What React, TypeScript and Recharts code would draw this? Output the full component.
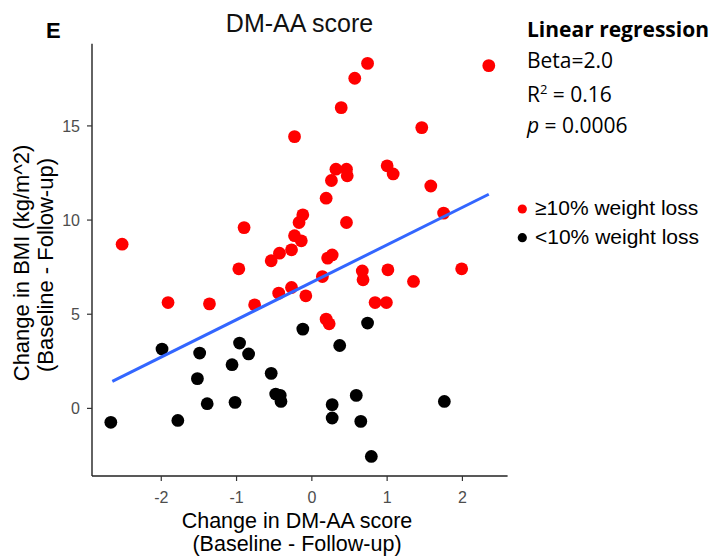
import React from "react";
import { ScatterChart, Scatter, XAxis, YAxis, Customized } from "recharts";

// ≥10% weight loss (red)
const redX = [-2.52, -1.91, -1.36, -0.97, -0.9, -0.76, -0.54, -0.43, -0.44, -0.27, -0.27, -0.23, -0.23, -0.14, -0.17, -0.12, -0.08, 0.14, 0.19, 0.21, 0.27, 0.19, 0.23, 0.26, 0.32, 0.46, 0.47, 0.46, 0.39, 0.57, 0.74, 0.67, 0.68, 0.84, 0.99, 1.0, 1.08, 1.01, 1.35, 1.46, 1.58, 1.75, 1.99, 2.35];
const redY = [8.72, 5.62, 5.55, 7.41, 9.6, 5.5, 7.84, 8.24, 6.12, 8.42, 6.42, 14.43, 9.17, 8.9, 9.87, 10.28, 5.98, 7.0, 11.16, 7.98, 8.15, 4.74, 4.49, 12.1, 12.7, 12.7, 12.35, 9.87, 15.97, 17.53, 18.32, 7.3, 6.83, 5.62, 5.62, 12.88, 12.45, 7.36, 6.74, 14.91, 11.81, 10.37, 7.41, 18.2];

// <10% weight loss (black)
const blackX = [-2.67, -1.99, -1.78, -1.52, -1.49, -1.39, -1.06, -1.02, -0.96, -0.84, -0.54, -0.48, -0.42, -0.41, -0.12, 0.27, 0.27, 0.37, 0.59, 0.65, 0.74, 0.79, 1.76];
const blackY = [-0.74, 3.15, -0.64, 1.58, 2.94, 0.25, 2.32, 0.32, 3.47, 2.89, 1.86, 0.76, 0.69, 0.37, 4.21, 0.2, -0.51, 3.34, 0.69, -0.69, 4.53, -2.55, 0.37];

// fitted regression line end points
const fitX = [-2.65, 2.35];
const fitY = [1.43, 11.37];

const xTicks = [-2, -1, 0, 1, 2];
const yTicks = [0, 5, 10, 15];

const redData = redX.map((x, i) => ({ x, y: redY[i] }));
const blackData = blackX.map((x, i) => ({ x, y: blackY[i] }));
const fitData = fitX.map((x, i) => ({ x, y: fitY[i] }));

const SANS = "'Liberation Sans', Arial, sans-serif";
const CAL = "'Open Sans', Lato, sans-serif";

const dot = (color: string) => (p: any) => (
  <circle cx={p.cx} cy={p.cy} r={6.4} fill={color} />
);

const XTick = (p: any) => (
  <text x={p.x} y={p.y} dy="0.72em" textAnchor="middle" fontFamily={SANS} fontSize={16} fill="#4D4D4D">
    {p.payload.value}
  </text>
);

const YTick = (p: any) => (
  <text x={p.x} y={p.y} dy="0.36em" textAnchor="end" fontFamily={SANS} fontSize={16} fill="#4D4D4D">
    {p.payload.value}
  </text>
);

const Annotations = () => (
  <g>
    <text x={46} y={37.5} fontFamily={SANS} fontWeight="bold" fontSize={22} fill="#000">E</text>
    <text x={299.5} y={31.7} textAnchor="middle" fontFamily={SANS} fontSize={25} fill="#111">DM-AA score</text>

    <text x={527} y={36.7} fontFamily={CAL} fontWeight="bold" fontSize={21} fill="#000">Linear regression</text>
    <text x={527} y={68.3} fontFamily={CAL} fontSize={21} fill="#000">Beta=2.0</text>
    <text x={527} y={101.7} fontFamily={CAL} fontSize={21} fill="#000">
      R<tspan dy={-8} fontSize={13}>2</tspan><tspan dy={8}> = 0.16</tspan>
    </text>
    <text x={527} y={133.3} fontFamily={CAL} fontSize={21} fill="#000">
      <tspan fontStyle="italic">p</tspan> = 0.0006
    </text>

    <circle cx={522.3} cy={209} r={4.6} fill="#FF0000" />
    <text x={535} y={215} fontFamily={SANS} fontSize={21} fill="#000">≥10% weight loss</text>
    <circle cx={522.3} cy={237.7} r={4.6} fill="#000" />
    <text x={535} y={243.5} fontFamily={SANS} fontSize={21} fill="#000">&lt;10% weight loss</text>

    <text x={297} y={528} textAnchor="middle" fontFamily={SANS} fontSize={21.5} fill="#000">Change in DM-AA score</text>
    <text x={297} y={551} textAnchor="middle" fontFamily={SANS} fontSize={21.5} fill="#000">(Baseline - Follow-up)</text>

    <text x={29.3} y={263} transform="rotate(-90 29.3 263)" textAnchor="middle" fontFamily={SANS} fontSize={22} fill="#000">Change in BMI (kg/m^2)</text>
    <text x={52.7} y={265} transform="rotate(-90 52.7 265)" textAnchor="middle" fontFamily={SANS} fontSize={22} fill="#000">(Baseline - Follow-up)</text>
  </g>
);

export default function App() {
  return (
    <div style={{ position: "absolute", left: 0, top: 0, width: 716, height: 557, background: "#fff" }}>
      <ScatterChart
        width={716}
        height={557}
        margin={{ top: 43.8, right: 208.4, bottom: 51, left: 42 }}
      >
        <XAxis
          type="number"
          dataKey="x"
          domain={[-2.92, 2.6]}
          ticks={xTicks}
          allowDataOverflow
          height={30}
          tickSize={5}
          tickMargin={10}
          axisLine={{ stroke: "#222", strokeWidth: 1.4 }}
          tickLine={{ stroke: "#333", strokeWidth: 1.2 }}
          tick={<XTick />}
        />
        <YAxis
          type="number"
          dataKey="y"
          domain={[-3.59, 19.36]}
          ticks={yTicks}
          allowDataOverflow
          width={50}
          tickSize={5}
          tickMargin={7}
          axisLine={{ stroke: "#222", strokeWidth: 1.4 }}
          tickLine={{ stroke: "#333", strokeWidth: 1.2 }}
          tick={<YTick />}
        />
        <Scatter data={redData} fill="#FF0000" shape={dot("#FF0000")} isAnimationActive={false} />
        <Scatter data={blackData} fill="#000000" shape={dot("#000000")} isAnimationActive={false} />
        <Scatter
          data={fitData}
          line={{ stroke: "#3366FF", strokeWidth: 3 }}
          shape={() => <g />}
          isAnimationActive={false}
        />
        <Customized component={Annotations} />
      </ScatterChart>
    </div>
  );
}
